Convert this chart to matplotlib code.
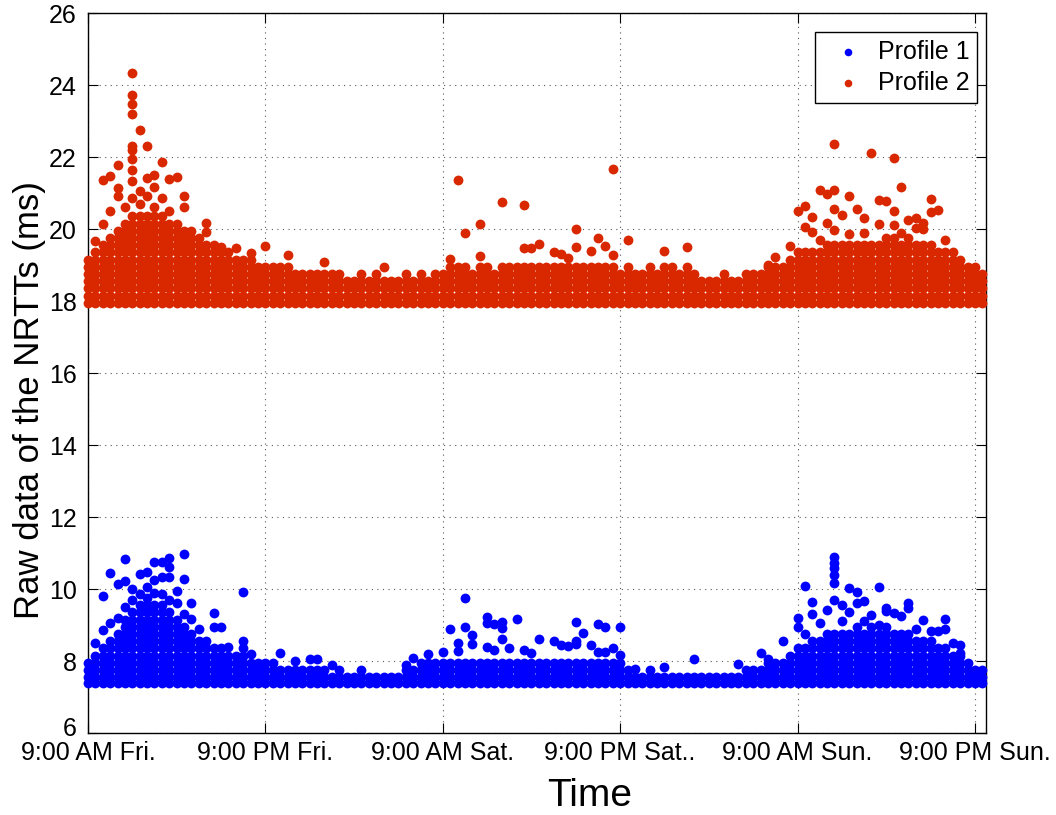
"""
Raw NRTT samples of two measurement profiles over a weekend.
Saves the figure to out.png.
"""

import matplotlib

matplotlib.use("Agg")
import matplotlib.pyplot as plt
import matplotlib.transforms as mtransforms


# sampling times, hours after 9:00 AM Friday
hours = [
    0.0, 0.5, 1.0, 1.5, 2.0, 2.5, 3.0, 3.5, 4.0, 4.5,
    5.0, 5.5, 6.0, 6.5, 7.0, 7.5, 8.0, 8.5, 9.0, 9.5,
    10.0, 10.5, 11.0, 11.5, 12.0, 12.5, 13.0, 13.5, 14.0, 14.5,
    15.0, 15.5, 16.0, 16.5, 17.0, 17.5, 18.0, 18.5, 19.0, 19.5,
    20.0, 20.5, 21.0, 21.5, 22.0, 22.5, 23.0, 23.5, 24.0, 24.5,
    25.0, 25.5, 26.0, 26.5, 27.0, 27.5, 28.0, 28.5, 29.0, 29.5,
    30.0, 30.5, 31.0, 31.5, 32.0, 32.5, 33.0, 33.5, 34.0, 34.5,
    35.0, 35.5, 36.0, 36.5, 37.0, 37.5, 38.0, 38.5, 39.0, 39.5,
    40.0, 40.5, 41.0, 41.5, 42.0, 42.5, 43.0, 43.5, 44.0, 44.5,
    45.0, 45.5, 46.0, 46.5, 47.0, 47.5, 48.0, 48.5, 49.0, 49.5,
    50.0, 50.5, 51.0, 51.5, 52.0, 52.5, 53.0, 53.5, 54.0, 54.5,
    55.0, 55.5, 56.0, 56.5, 57.0, 57.5, 58.0, 58.5, 59.0, 59.5,
    60.0, 60.5,
]

# Profile 1 samples (ms), one list per sampling time
p1_cols = [
    [7.40, 7.55, 7.75, 7.95],
    [7.40, 7.55, 7.75, 7.95, 8.15, 8.49],
    [7.40, 7.55, 7.75, 7.95, 8.15, 8.35, 8.86, 9.81],
    [7.40, 7.55, 7.75, 7.95, 8.15, 8.35, 8.55, 9.05, 10.44],
    [7.40, 7.55, 7.75, 7.95, 8.15, 8.35, 8.55, 8.75, 9.2, 10.14],
    [7.40, 7.55, 7.75, 7.95, 8.15, 8.35, 8.55, 8.75, 8.95, 9.15, 9.5, 10.23, 10.83],
    [7.40, 7.55, 7.75, 7.95, 8.15, 8.35, 8.55, 8.75, 8.95, 9.15, 9.35, 9.7, 10.0],
    [7.40, 7.55, 7.75, 7.95, 8.15, 8.35, 8.55, 8.75, 8.95, 9.15, 9.35, 9.55, 9.85, 10.41],
    [7.40, 7.55, 7.75, 7.95, 8.15, 8.35, 8.55, 8.75, 8.95, 9.15, 9.35, 9.55, 9.75, 10.06, 10.46],
    [7.40, 7.55, 7.75, 7.95, 8.15, 8.35, 8.55, 8.75, 8.95, 9.15, 9.35, 9.55, 9.9, 10.25, 10.74],
    [7.40, 7.55, 7.75, 7.95, 8.15, 8.35, 8.55, 8.75, 8.95, 9.15, 9.35, 9.55, 9.85, 10.32, 10.74],
    [7.40, 7.55, 7.75, 7.95, 8.15, 8.35, 8.55, 8.75, 8.95, 9.15, 9.35, 9.7, 10.34, 10.6, 10.85],
    [7.40, 7.55, 7.75, 7.95, 8.15, 8.35, 8.55, 8.75, 8.95, 9.15, 9.6, 9.95],
    [7.40, 7.55, 7.75, 7.95, 8.15, 8.35, 8.55, 8.75, 8.95, 9.3, 10.27, 10.98],
    [7.40, 7.55, 7.75, 7.95, 8.15, 8.35, 8.55, 8.75, 9.17, 9.6],
    [7.40, 7.55, 7.75, 7.95, 8.15, 8.35, 8.55, 8.9],
    [7.40, 7.55, 7.75, 7.95, 8.15, 8.35, 8.55],
    [7.40, 7.55, 7.75, 7.95, 8.15, 8.35, 8.95, 9.33],
    [7.40, 7.55, 7.75, 7.95, 8.15, 8.35, 8.94],
    [7.40, 7.55, 7.75, 7.95, 8.15, 8.4],
    [7.40, 7.55, 7.75, 7.95, 8.15],
    [7.40, 7.55, 7.75, 7.95, 8.15, 8.37, 8.56, 9.92],
    [7.40, 7.55, 7.75, 7.95, 8.2],
    [7.40, 7.55, 7.75, 7.95],
    [7.40, 7.55, 7.75, 7.95],
    [7.40, 7.55, 7.75, 7.95],
    [7.40, 7.55, 7.75, 8.23],
    [7.40, 7.55, 7.75],
    [7.40, 7.55, 7.75, 8.0],
    [7.40, 7.55, 7.75],
    [7.40, 7.55, 7.75, 8.05],
    [7.40, 7.55, 7.75, 8.06],
    [7.40, 7.55, 7.75],
    [7.40, 7.55, 7.89],
    [7.40, 7.55, 7.75],
    [7.40, 7.55],
    [7.40, 7.55],
    [7.40, 7.55, 7.74],
    [7.40, 7.55],
    [7.40, 7.55],
    [7.40, 7.55],
    [7.40, 7.55],
    [7.40, 7.55],
    [7.40, 7.55, 7.75, 7.89],
    [7.40, 7.55, 7.75, 8.09],
    [7.40, 7.55, 7.75, 7.95],
    [7.40, 7.55, 7.75, 7.95, 8.19],
    [7.40, 7.55, 7.75, 7.95],
    [7.40, 7.55, 7.75, 7.95, 8.24],
    [7.40, 7.55, 7.75, 7.95, 8.88],
    [7.40, 7.55, 7.75, 7.95, 8.28, 8.49],
    [7.40, 7.55, 7.75, 7.95, 8.94, 9.76],
    [7.40, 7.55, 7.75, 7.95, 8.47, 8.72],
    [7.40, 7.55, 7.75, 7.95],
    [7.40, 7.55, 7.75, 7.95, 8.38, 9.06, 9.23],
    [7.40, 7.55, 7.75, 7.95, 8.31, 9.02],
    [7.40, 7.55, 7.75, 7.95, 8.6, 8.91, 9.08],
    [7.40, 7.55, 7.75, 7.95, 8.35],
    [7.40, 7.55, 7.75, 7.95, 9.18],
    [7.40, 7.55, 7.75, 7.95, 8.31],
    [7.40, 7.55, 7.75, 7.95, 8.23],
    [7.40, 7.55, 7.75, 7.95, 8.61],
    [7.40, 7.55, 7.75, 7.95],
    [7.40, 7.55, 7.75, 7.95, 8.55],
    [7.40, 7.55, 7.75, 7.95, 8.44],
    [7.40, 7.55, 7.75, 7.95, 8.43],
    [7.40, 7.55, 7.75, 7.95, 8.46, 8.56, 9.07],
    [7.40, 7.55, 7.75, 7.95, 8.77],
    [7.40, 7.55, 7.75, 7.95, 8.44],
    [7.40, 7.55, 7.75, 7.95, 8.26, 9.04],
    [7.40, 7.55, 7.75, 7.95, 8.26, 8.94],
    [7.40, 7.55, 7.75, 7.95, 8.37],
    [7.40, 7.55, 7.75, 7.95, 8.17, 8.94],
    [7.40, 7.55, 7.75],
    [7.40, 7.55, 7.77],
    [7.40, 7.55],
    [7.40, 7.55, 7.75],
    [7.40, 7.55],
    [7.40, 7.55, 7.82],
    [7.40, 7.55],
    [7.40, 7.55],
    [7.40, 7.55],
    [7.40, 7.55, 8.05],
    [7.40, 7.55],
    [7.40, 7.55],
    [7.40, 7.55],
    [7.40, 7.55],
    [7.40, 7.55],
    [7.40, 7.55, 7.91],
    [7.40, 7.55, 7.75],
    [7.40, 7.55, 7.75],
    [7.40, 7.55, 7.75, 8.21],
    [7.40, 7.55, 7.75, 7.95, 8.06],
    [7.40, 7.55, 7.75, 7.95],
    [7.40, 7.55, 7.75, 7.95, 8.56],
    [7.40, 7.55, 7.75, 7.95, 8.15],
    [7.40, 7.55, 7.75, 7.95, 8.15, 8.35, 8.94, 9.19],
    [7.40, 7.55, 7.75, 7.95, 8.15, 8.35, 8.75, 10.09],
    [7.40, 7.55, 7.75, 7.95, 8.15, 8.35, 8.55, 9.31, 9.63],
    [7.40, 7.55, 7.75, 7.95, 8.15, 8.35, 8.55, 9.05],
    [7.40, 7.55, 7.75, 7.95, 8.15, 8.35, 8.55, 8.75, 9.42],
    [7.40, 7.55, 7.75, 7.95, 8.15, 8.35, 8.55, 8.75, 9.69, 10.16, 10.39, 10.57, 10.71, 10.88],
    [7.40, 7.55, 7.75, 7.95, 8.15, 8.35, 8.55, 8.75, 9.1, 9.56],
    [7.40, 7.55, 7.75, 7.95, 8.15, 8.35, 8.55, 8.75, 9.37, 10.04],
    [7.40, 7.55, 7.75, 7.95, 8.15, 8.35, 8.55, 8.75, 8.95, 9.6, 9.93],
    [7.40, 7.55, 7.75, 7.95, 8.15, 8.35, 8.55, 8.75, 9.1, 9.68],
    [7.40, 7.55, 7.75, 7.95, 8.15, 8.35, 8.55, 8.75, 8.95, 9.28],
    [7.40, 7.55, 7.75, 7.95, 8.15, 8.35, 8.55, 8.75, 9.0, 10.06],
    [7.40, 7.55, 7.75, 7.95, 8.15, 8.35, 8.55, 8.75, 8.95, 9.39, 9.46],
    [7.40, 7.55, 7.75, 7.95, 8.15, 8.35, 8.55, 8.75, 9.32],
    [7.40, 7.55, 7.75, 7.95, 8.15, 8.35, 8.55, 8.75, 9.25],
    [7.40, 7.55, 7.75, 7.95, 8.15, 8.35, 8.55, 8.75, 9.48, 9.6],
    [7.40, 7.55, 7.75, 7.95, 8.15, 8.35, 8.55, 8.9],
    [7.40, 7.55, 7.75, 7.95, 8.15, 8.35, 8.55, 9.14],
    [7.40, 7.55, 7.75, 7.95, 8.15, 8.35, 8.55, 8.83],
    [7.40, 7.55, 7.75, 7.95, 8.15, 8.35, 8.84],
    [7.40, 7.55, 7.75, 7.95, 8.15, 8.35, 8.89, 9.17],
    [7.40, 7.55, 7.75, 7.95, 8.15, 8.5],
    [7.40, 7.55, 7.75, 7.95, 8.15, 8.21, 8.44],
    [7.40, 7.55, 7.75, 7.95],
    [7.40, 7.55, 7.75],
    [7.40, 7.55, 7.75],
]

# Profile 2 samples (ms), one list per sampling time
p2_cols = [
    [17.95, 18.15, 18.35, 18.55, 18.75, 18.95, 19.15],
    [17.95, 18.15, 18.35, 18.55, 18.75, 18.95, 19.15, 19.35, 19.67],
    [17.95, 18.15, 18.35, 18.55, 18.75, 18.95, 19.15, 19.35, 19.55, 20.13, 21.37],
    [17.95, 18.15, 18.35, 18.55, 18.75, 18.95, 19.15, 19.35, 19.55, 19.75, 20.5, 21.48],
    [17.95, 18.15, 18.35, 18.55, 18.75, 18.95, 19.15, 19.35, 19.55, 19.75, 19.95, 20.92, 21.15, 21.78],
    [17.95, 18.15, 18.35, 18.55, 18.75, 18.95, 19.15, 19.35, 19.55, 19.75, 19.95, 20.15, 20.62],
    [17.95, 18.15, 18.35, 18.55, 18.75, 18.95, 19.15, 19.35, 19.55, 19.75, 19.95, 20.15, 20.35,
     20.87, 21.34, 21.65, 21.95, 22.2, 22.32, 23.19, 23.47, 23.72, 24.33],
    [17.95, 18.15, 18.35, 18.55, 18.75, 18.95, 19.15, 19.35, 19.55, 19.75, 19.95, 20.15, 20.35,
     20.7, 21.06, 22.75],
    [17.95, 18.15, 18.35, 18.55, 18.75, 18.95, 19.15, 19.35, 19.55, 19.75, 19.95, 20.15, 20.35,
     20.92, 21.41, 22.31],
    [17.95, 18.15, 18.35, 18.55, 18.75, 18.95, 19.15, 19.35, 19.55, 19.75, 19.95, 20.15, 20.35,
     20.6, 21.17, 21.51],
    [17.95, 18.15, 18.35, 18.55, 18.75, 18.95, 19.15, 19.35, 19.55, 19.75, 19.95, 20.15, 20.35,
     20.87, 21.87],
    [17.95, 18.15, 18.35, 18.55, 18.75, 18.95, 19.15, 19.35, 19.55, 19.75, 19.95, 20.15, 20.5, 21.4],
    [17.95, 18.15, 18.35, 18.55, 18.75, 18.95, 19.15, 19.35, 19.55, 19.75, 19.95, 20.15, 21.45],
    [17.95, 18.15, 18.35, 18.55, 18.75, 18.95, 19.15, 19.35, 19.55, 19.75, 19.95, 20.62, 20.92],
    [17.95, 18.15, 18.35, 18.55, 18.75, 18.95, 19.15, 19.35, 19.55, 19.75, 19.95],
    [17.95, 18.15, 18.35, 18.55, 18.75, 18.95, 19.15, 19.35, 19.55, 19.75],
    [17.95, 18.15, 18.35, 18.55, 18.75, 18.95, 19.15, 19.35, 19.55, 19.93, 20.17],
    [17.95, 18.15, 18.35, 18.55, 18.75, 18.95, 19.15, 19.35, 19.55],
    [17.95, 18.15, 18.35, 18.55, 18.75, 18.95, 19.15, 19.35, 19.5],
    [17.95, 18.15, 18.35, 18.55, 18.75, 18.95, 19.15, 19.35],
    [17.95, 18.15, 18.35, 18.55, 18.75, 18.95, 19.15, 19.46],
    [17.95, 18.15, 18.35, 18.55, 18.75, 18.95, 19.15],
    [17.95, 18.15, 18.35, 18.55, 18.75, 18.95, 19.15, 19.33],
    [17.95, 18.15, 18.35, 18.55, 18.75, 18.95],
    [17.95, 18.15, 18.35, 18.55, 18.75, 18.95, 19.52],
    [17.95, 18.15, 18.35, 18.55, 18.75, 18.95],
    [17.95, 18.15, 18.35, 18.55, 18.75, 18.95],
    [17.95, 18.15, 18.35, 18.55, 18.75, 18.95, 19.27],
    [17.95, 18.15, 18.35, 18.55, 18.75],
    [17.95, 18.15, 18.35, 18.55, 18.75],
    [17.95, 18.15, 18.35, 18.55, 18.75],
    [17.95, 18.15, 18.35, 18.55, 18.75],
    [17.95, 18.15, 18.35, 18.55, 18.75, 19.09],
    [17.95, 18.15, 18.35, 18.55, 18.75],
    [17.95, 18.15, 18.35, 18.55, 18.75],
    [17.95, 18.15, 18.35, 18.55],
    [17.95, 18.15, 18.35, 18.55],
    [17.95, 18.15, 18.35, 18.55, 18.75],
    [17.95, 18.15, 18.35, 18.55],
    [17.95, 18.15, 18.35, 18.55, 18.75],
    [17.95, 18.15, 18.35, 18.55, 18.95],
    [17.95, 18.15, 18.35, 18.55],
    [17.95, 18.15, 18.35, 18.55],
    [17.95, 18.15, 18.35, 18.55, 18.75],
    [17.95, 18.15, 18.35, 18.55],
    [17.95, 18.15, 18.35, 18.55, 18.75],
    [17.95, 18.15, 18.35, 18.55],
    [17.95, 18.15, 18.35, 18.55, 18.75],
    [17.95, 18.15, 18.35, 18.55, 18.75],
    [17.95, 18.15, 18.35, 18.55, 18.75, 18.95, 19.18],
    [17.95, 18.15, 18.35, 18.55, 18.75, 18.95, 21.35],
    [17.95, 18.15, 18.35, 18.55, 18.75, 18.95, 19.9],
    [17.95, 18.15, 18.35, 18.55, 18.75],
    [17.95, 18.15, 18.35, 18.55, 18.75, 18.95, 19.25, 20.13],
    [17.95, 18.15, 18.35, 18.55, 18.75, 18.95],
    [17.95, 18.15, 18.35, 18.55, 18.75],
    [17.95, 18.15, 18.35, 18.55, 18.75, 18.95, 20.76],
    [17.95, 18.15, 18.35, 18.55, 18.75, 18.95],
    [17.95, 18.15, 18.35, 18.55, 18.75, 18.95],
    [17.95, 18.15, 18.35, 18.55, 18.75, 18.95, 19.47, 20.67],
    [17.95, 18.15, 18.35, 18.55, 18.75, 18.95, 19.47],
    [17.95, 18.15, 18.35, 18.55, 18.75, 18.95, 19.58],
    [17.95, 18.15, 18.35, 18.55, 18.75, 18.95],
    [17.95, 18.15, 18.35, 18.55, 18.75, 18.95, 19.36],
    [17.95, 18.15, 18.35, 18.55, 18.75, 18.95, 19.31],
    [17.95, 18.15, 18.35, 18.55, 18.75, 18.95, 19.2],
    [17.95, 18.15, 18.35, 18.55, 18.75, 18.95, 19.5, 20.0],
    [17.95, 18.15, 18.35, 18.55, 18.75, 18.95],
    [17.95, 18.15, 18.35, 18.55, 18.75, 18.95, 19.39],
    [17.95, 18.15, 18.35, 18.55, 18.75, 18.95, 19.75],
    [17.95, 18.15, 18.35, 18.55, 18.75, 18.95, 19.52],
    [17.95, 18.15, 18.35, 18.55, 18.75, 18.95, 19.28, 21.68],
    [17.95, 18.15, 18.35, 18.55, 18.75],
    [17.95, 18.15, 18.35, 18.55, 18.75, 18.95, 19.7],
    [17.95, 18.15, 18.35, 18.55, 18.75],
    [17.95, 18.15, 18.35, 18.55, 18.75],
    [17.95, 18.15, 18.35, 18.55, 18.75, 18.95],
    [17.95, 18.15, 18.35, 18.55, 18.75],
    [17.95, 18.15, 18.35, 18.55, 18.75, 18.95, 19.4],
    [17.95, 18.15, 18.35, 18.55, 18.75, 18.95],
    [17.95, 18.15, 18.35, 18.55, 18.75],
    [17.95, 18.15, 18.35, 18.55, 18.75, 18.95, 19.5],
    [17.95, 18.15, 18.35, 18.55, 18.75],
    [17.95, 18.15, 18.35, 18.55],
    [17.95, 18.15, 18.35, 18.55],
    [17.95, 18.15, 18.35, 18.55],
    [17.95, 18.15, 18.35, 18.55, 18.75],
    [17.95, 18.15, 18.35, 18.55],
    [17.95, 18.15, 18.35, 18.55],
    [17.95, 18.15, 18.35, 18.55, 18.75],
    [17.95, 18.15, 18.35, 18.55, 18.75],
    [17.95, 18.15, 18.35, 18.55, 18.75],
    [17.95, 18.15, 18.35, 18.55, 18.75, 18.95, 19.01],
    [17.95, 18.15, 18.35, 18.55, 18.75, 18.95, 19.22],
    [17.95, 18.15, 18.35, 18.55, 18.75, 18.95],
    [17.95, 18.15, 18.35, 18.55, 18.75, 18.95, 19.15, 19.52],
    [17.95, 18.15, 18.35, 18.55, 18.75, 18.95, 19.15, 19.35, 20.5],
    [17.95, 18.15, 18.35, 18.55, 18.75, 18.95, 19.15, 19.35, 20.06, 20.63],
    [17.95, 18.15, 18.35, 18.55, 18.75, 18.95, 19.15, 19.35, 19.91, 20.33],
    [17.95, 18.15, 18.35, 18.55, 18.75, 18.95, 19.15, 19.35, 19.7, 21.09],
    [17.95, 18.15, 18.35, 18.55, 18.75, 18.95, 19.15, 19.35, 19.55, 20.17, 20.97],
    [17.95, 18.15, 18.35, 18.55, 18.75, 18.95, 19.15, 19.35, 19.55, 19.97, 20.55, 21.08, 22.36],
    [17.95, 18.15, 18.35, 18.55, 18.75, 18.95, 19.15, 19.35, 19.55, 20.4],
    [17.95, 18.15, 18.35, 18.55, 18.75, 18.95, 19.15, 19.35, 19.55, 19.85, 20.93],
    [17.95, 18.15, 18.35, 18.55, 18.75, 18.95, 19.15, 19.35, 19.55, 20.55],
    [17.95, 18.15, 18.35, 18.55, 18.75, 18.95, 19.15, 19.35, 19.55, 19.9, 20.3],
    [17.95, 18.15, 18.35, 18.55, 18.75, 18.95, 19.15, 19.35, 19.55, 22.11],
    [17.95, 18.15, 18.35, 18.55, 18.75, 18.95, 19.15, 19.35, 19.55, 20.13, 20.8],
    [17.95, 18.15, 18.35, 18.55, 18.75, 18.95, 19.15, 19.35, 19.55, 19.75, 20.77],
    [17.95, 18.15, 18.35, 18.55, 18.75, 18.95, 19.15, 19.35, 19.55, 19.75, 20.1, 20.5, 21.98],
    [17.95, 18.15, 18.35, 18.55, 18.75, 18.95, 19.15, 19.35, 19.55, 19.9, 21.17],
    [17.95, 18.15, 18.35, 18.55, 18.75, 18.95, 19.15, 19.35, 19.55, 19.75, 20.25],
    [17.95, 18.15, 18.35, 18.55, 18.75, 18.95, 19.15, 19.35, 19.55, 20.02, 20.32],
    [17.95, 18.15, 18.35, 18.55, 18.75, 18.95, 19.15, 19.35, 19.55, 20.0, 20.17],
    [17.95, 18.15, 18.35, 18.55, 18.75, 18.95, 19.15, 19.35, 19.55, 20.48, 20.84],
    [17.95, 18.15, 18.35, 18.55, 18.75, 18.95, 19.15, 19.35, 20.53],
    [17.95, 18.15, 18.35, 18.55, 18.75, 18.95, 19.15, 19.35, 19.7],
    [17.95, 18.15, 18.35, 18.55, 18.75, 18.95, 19.15, 19.35],
    [17.95, 18.15, 18.35, 18.55, 18.75, 18.95, 19.15],
    [17.95, 18.15, 18.35, 18.55, 18.75, 18.95],
    [17.95, 18.15, 18.35, 18.55, 18.75, 18.95],
    [17.95, 18.15, 18.35, 18.55, 18.75],
]

tick_hours = [0, 12, 24, 36, 48, 60]
tick_labels = [
    "9:00 AM Fri.",
    "9:00 PM Fri.",
    "9:00 AM Sat.",
    "9:00 PM Sat..",
    "9:00 AM Sun.",
    "9:00 PM Sun.",
]

series = [
    ("Profile 1", p1_cols, "#0000FF"),
    ("Profile 2", p2_cols, "#D92800"),
]


def flatten(cols):
    xs, ys = [], []
    for t, vals in zip(hours, cols):
        for v in vals:
            xs.append(t)
            ys.append(v)
    return xs, ys


plt.rcParams["font.family"] = ["Liberation Sans", "DejaVu Sans"]

fig = plt.figure(figsize=(10.56, 8.15), dpi=100)
ax = fig.add_axes([0.0833, 0.1006, 0.8504, 0.8834])

for label, cols, color in series:
    xs, ys = flatten(cols)
    ax.scatter(xs, ys, s=50, color=color, linewidths=0, label=label,
               clip_on=False, zorder=3)

ax.set_xlim(0, 60.75)
ax.set_ylim(6, 26)
ax.set_xticks(tick_hours)
ax.set_xticklabels(tick_labels)
ax.set_yticks(range(6, 27, 2))

ax.tick_params(direction="in", top=True, right=True, length=7, width=0.8,
               labelsize=18)
ax.tick_params(axis="x", pad=6)
ax.tick_params(axis="y", pad=8)
for spine in ax.spines.values():
    spine.set_linewidth(1.0)

# the lowest y tick label sits a little above the axis, as in the original
fig.canvas.draw()
lowest = ax.get_yticklabels()[0]
lowest.set_transform(lowest.get_transform()
                     + mtransforms.ScaledTranslation(0, 5 / 72, fig.dpi_scale_trans))

ax.grid(True, linestyle=(0, (1, 4)), color="0.35", linewidth=0.8)
ax.set_axisbelow(True)

ax.set_xlabel("Time", fontsize=28, labelpad=8)
ax.xaxis.set_label_coords(0.559, -0.062)
ax.set_ylabel("Raw data of the NRTTs (ms)", fontsize=25)
ax.yaxis.set_label_coords(-0.047, 0.4625)

leg = ax.legend(loc="upper right", bbox_to_anchor=(0.990, 0.9736), borderaxespad=0,
                fontsize=18, scatterpoints=1, fancybox=False, framealpha=1,
                edgecolor="black", handletextpad=0.2, borderpad=0.3,
                labelspacing=0.3, handlelength=2.0)
leg.get_frame().set_linewidth(1.0)
for handle in leg.legend_handles:
    handle.set_sizes([30])

fig.savefig("out.png", dpi=100)
